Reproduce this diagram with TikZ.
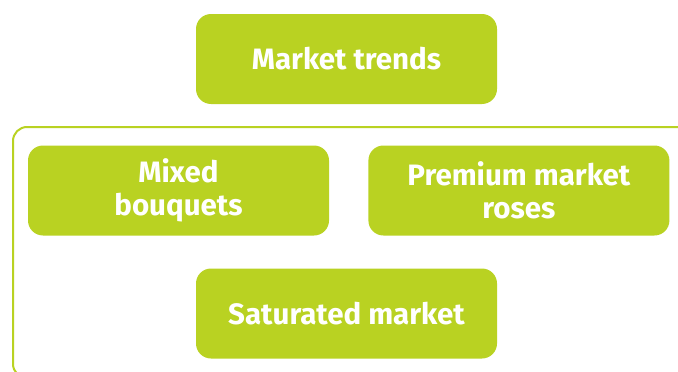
\documentclass[tikz,border=0pt]{standalone}
\usepackage{fontspec}
\setmainfont{Fira Sans}
\usepackage{tikz}
\usetikzlibrary{positioning}

\definecolor{leaf}{RGB}{185,210,34}

\begin{document}
\begin{tikzpicture}[
  x=1pt, y=1pt,
  font=\bfseries\fontsize{29.5}{33}\selectfont,
  box/.style={fill=leaf, text=white, rounded corners=15pt, minimum width=301pt, minimum height=90pt, align=center, inner sep=0pt},
  frame/.style={draw=leaf, line width=2pt, rounded corners=14pt}]
\useasboundingbox (0,0) rectangle (678,-372);
% outer frame, open to the right and bottom
\draw[frame] (13,-127) rectangle (720,-378);
\node[box] (mixed) at (178.5,-190.5) {Mixed\\bouquets};
\node[box, right=39pt of mixed] (premium) {Premium market\\roses};
\node[box] (trends) at (346.5,-59) {Market trends};
\node[box] (saturated) at (346.5,-313.5) {Saturated market};
\end{tikzpicture}
\end{document}
